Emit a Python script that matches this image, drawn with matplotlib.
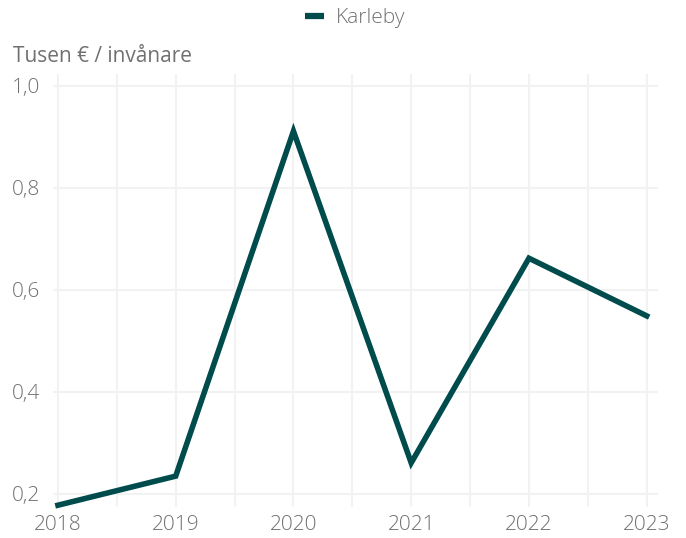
import matplotlib.pyplot as plt

years = [2018, 2019, 2020, 2021, 2022, 2023]
karleby = [0.178, 0.235, 0.911, 0.261, 0.662, 0.549]
y_ticks = [0.2, 0.4, 0.6, 0.8, 1.0]
y_tick_labels = ['0,2', '0,4', '0,6', '0,8', '1,0']

line_color = '#004b4b'
text_color = '#707070'
grid_color = '#f2f2f2'

plt.rcParams['font.family'] = ['Open Sans', 'DejaVu Sans']

fig = plt.figure(figsize=(6.86, 5.38), dpi=100)
ax = fig.add_axes([53 / 686, 31 / 538, 605 / 686, 433 / 538])

ax.plot(years, karleby, color=line_color, linewidth=4, solid_joinstyle='miter',
        label='Karleby', clip_on=False)

ax.set_xlim(2017.958, 2023.096)
ax.set_ylim(0.1745, 1.023)

ax.set_xticks(years)
ax.set_xticks([y + 0.5 for y in years[:-1]], minor=True)
ax.set_yticks(y_ticks)
ax.set_yticklabels(y_tick_labels)

ax.grid(True, which='both', axis='x', color=grid_color, linewidth=1.5)
ax.grid(True, which='major', axis='y', color=grid_color, linewidth=1.5)
ax.set_axisbelow(True)

for s in ax.spines.values():
    s.set_visible(False)

ax.tick_params(which='both', length=0, labelsize=15, colors=text_color)
ax.tick_params(axis='y', pad=9)
ax.tick_params(axis='x', pad=6)
for lbl in ax.get_xticklabels() + ax.get_yticklabels():
    lbl.set_fontweight('light')

fig.text(13 / 686, 1 - 57 / 538, 'Tusen € / invånare', fontsize=15,
         color=text_color, va='center', ha='left')

# legend sits centred over the plot area
leg = fig.legend(loc='center', bbox_to_anchor=(355.5 / 686, 1 - 18 / 538), frameon=False,
                 fontsize=15, handlelength=0.9, handletextpad=0.6)
for t in leg.get_texts():
    t.set_color(text_color)
    t.set_fontweight('light')
for h in leg.legend_handles:
    h.set_linewidth(4.5)
    h.set_solid_capstyle('butt')

fig.savefig('out.png', dpi=100)
